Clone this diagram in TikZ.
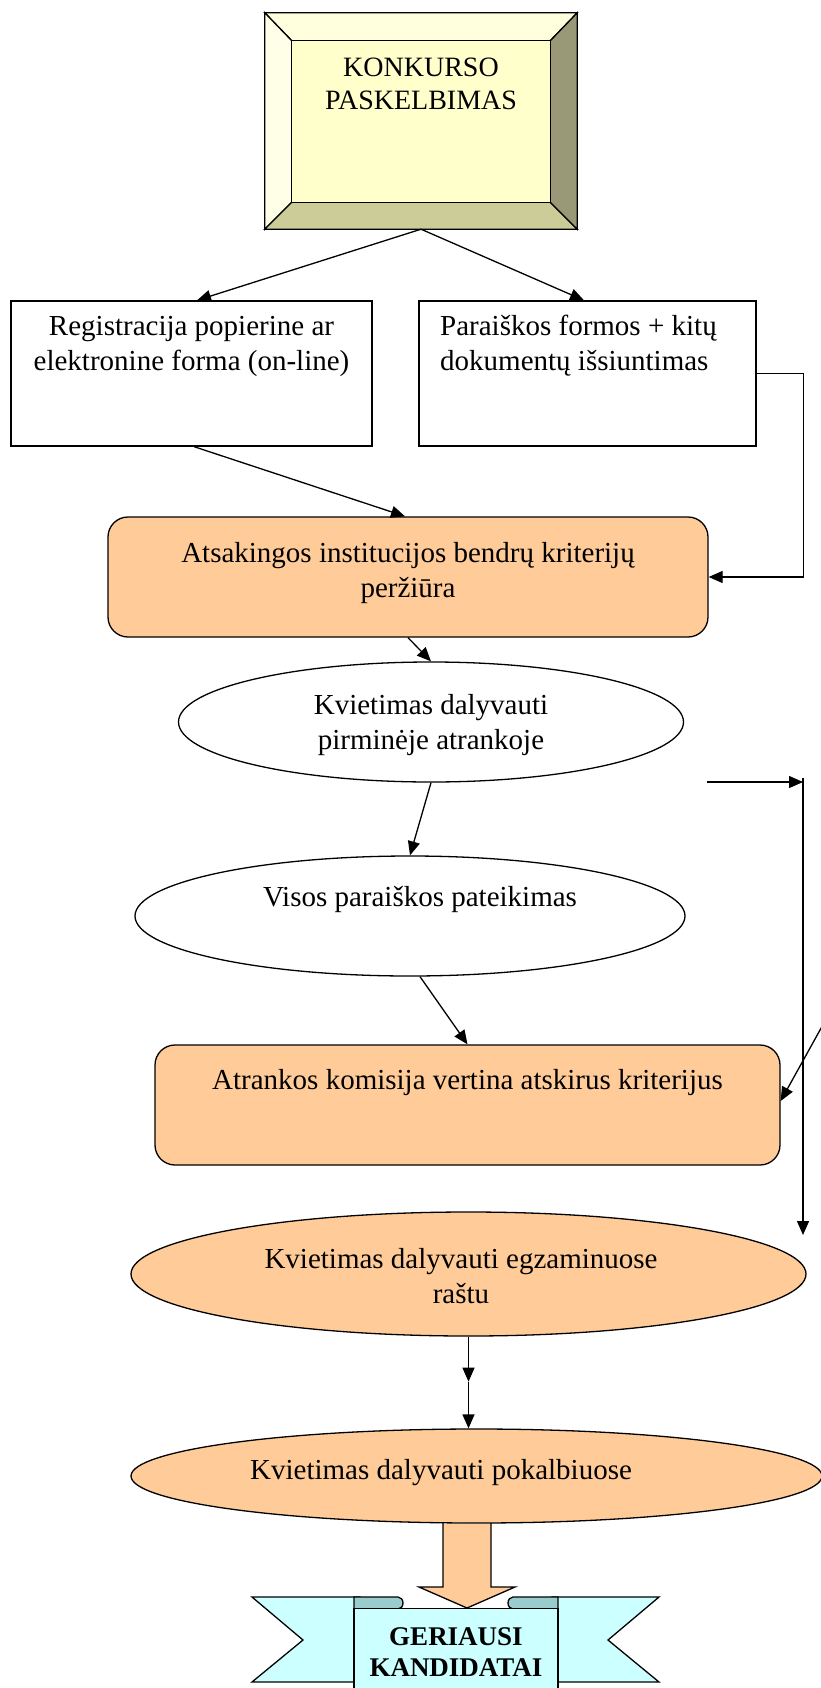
\documentclass[tikz,border=0pt]{standalone}
\usepackage{fontspec}
\setmainfont{Liberation Serif}
\usetikzlibrary{arrows.meta,shapes.geometric,calc}
\definecolor{peach}{HTML}{FFCC99}
\definecolor{ribbonc}{HTML}{CCFFFF}
\definecolor{rollc}{HTML}{99CCCC}
\definecolor{bvface}{HTML}{FFFFCC}
\definecolor{bvtop}{HTML}{FFFFDD}
\definecolor{bvleft}{HTML}{FFFFE8}
\definecolor{bvbot}{HTML}{CCCC99}
\definecolor{bvright}{HTML}{999977}
\newcommand{\lnsc}[1]{\begin{tabular}[t]{@{}c@{}}#1\end{tabular}}
\newcommand{\lnsl}[1]{\begin{tabular}[t]{@{}l@{}}#1\end{tabular}}
\begin{document}
\begin{tikzpicture}[x=1pt,y=-1pt,
  ln/.style={line width=1.3pt},
  arr/.style={ln,-{Triangle[length=14pt,width=12pt]}},
  txt/.style={font=\fontsize{29}{35}\selectfont, inner sep=0pt, anchor=base},
  rbox/.style={draw, ln, inner sep=0pt, fill=white},
  ell/.style={ellipse, draw, ln, inner sep=0pt, fill=white}]
\fill[white] (0,0) rectangle (820,1688);
\useasboundingbox (0,0) rectangle (820,1688);

% bevelled title box
\node[inner sep=0pt, minimum width=312pt, minimum height=216pt] (top) at (421,121) {};
\coordinate (iNW) at ($(top.north west)+(27,28)$);
\coordinate (iNE) at ($(top.north east)+(-27,28)$);
\coordinate (iSW) at ($(top.south west)+(27,-27)$);
\coordinate (iSE) at ($(top.south east)+(-27,-27)$);
\filldraw[ln, fill=bvtop] (top.north west) -- (top.north east) -- (iNE) -- (iNW) -- cycle;
\filldraw[ln, fill=bvleft] (top.north west) -- (iNW) -- (iSW) -- (top.south west) -- cycle;
\filldraw[ln, fill=bvbot] (top.south west) -- (iSW) -- (iSE) -- (top.south east) -- cycle;
\filldraw[ln, fill=bvright] (top.north east) -- (top.south east) -- (iSE) -- (iNE) -- cycle;
\filldraw[ln, fill=bvface] (iNW) rectangle (iSE);
\node[txt, font=\fontsize{28}{33}\selectfont] (toptxt) at (421,77) {\lnsc{KONKURSO\\PASKELBIMAS}};

% two boxes
\node[rbox, minimum width=361pt, minimum height=145pt] (b1) at (191.5,373.5) {};
\node[txt] (b1t) at (191.5,335) {\lnsc{Registracija popierine ar\\elektronine forma (on-line)}};
\node[rbox, minimum width=337pt, minimum height=145pt] (b2) at (587.5,373.5) {};
\node[txt, anchor=base west] (b2t) at (440,335) {\lnsl{Paraiškos formos + kitų\\dokumentų išsiuntimas}};
\draw[arr] (top.south) -- ([xshift=5.5pt]b1.north);
\draw[arr] (top.south) -- ([xshift=-3.5pt]b2.north);

% review box
\node[rbox, fill=peach, rounded corners=20pt, minimum width=600pt, minimum height=120pt] (b3) at (408,577) {};
\node[txt] (b3t) at (408,562) {\lnsc{Atsakingos institucijos bendrų kriterijų\\peržiūra}};
\draw[arr] ([xshift=2.5pt]b1.south) -- ([xshift=-3pt]b3.north);
\draw[arr] (b2.east) -- ++(47,0) |- (b3.east);

% ellipse 1
\node[ell, minimum width=505pt, minimum height=120pt] (e1) at (431,722) {};
\node[txt] (e1t) at (431,714) {\lnsc{Kvietimas dalyvauti\\pirminėje atrankoje}};
\draw[arr] (b3.south) -- (e1.north);

% ellipse 2
\node[ell, minimum width=550pt, minimum height=120pt] (e2) at (410,916) {};
\node[txt] (e2t) at (420,906) {Visos paraiškos pateikimas};
\draw[arr] (e1.south) -- (e2.north);

% commission box
\node[rbox, fill=peach, rounded corners=20pt, minimum width=625pt, minimum height=120pt] (b4) at (467.5,1105) {};
\node[txt] (b4t) at (467.5,1089) {Atrankos komisija vertina atskirus kriterijus};
\draw[arr] ([xshift=10pt]e2.south) -- (b4.north);

% right side connectors
\coordinate (fr) at (707,782);
\coordinate (rc) at (803,782);
\coordinate (rb) at (803,1235);
\coordinate (dg) at (830,1012);
\draw[arr] (fr) -- (rc);
\draw[arr] ([yshift=4pt]rc) -- (rb);
\draw[arr] (dg) -- ([yshift=4pt]b4.east);

% ellipse 3 and 4
\node[ell, fill=peach, minimum width=675pt, minimum height=124pt] (e3) at (468.5,1274) {};
\node[txt] (e3t) at (461,1268) {\lnsc{Kvietimas dalyvauti egzaminuose\\raštu}};
\node[ell, fill=peach, minimum width=691pt, minimum height=94pt] (e4) at (476.5,1476) {};
\node[txt] (e4t) at (441,1479) {Kvietimas dalyvauti pokalbiuose};
\coordinate (m) at ($(e3.south)+(0,45)$);
\draw[arr] (e3.south) -- (m);
\draw[arr] (m) -- (m |- e4.north);

% ribbon banner
\filldraw[ln, fill=ribbonc] (252,1597) -- (360,1597) -- (360,1682) -- (252,1682) -- (303,1640) -- cycle;
\filldraw[ln, fill=ribbonc] (659,1597) -- (552,1597) -- (552,1682) -- (659,1682) -- (608,1640) -- cycle;
\filldraw[ln, fill=rollc] (354,1609) -- (354,1597) -- (398,1597) arc[start angle=90, end angle=-90, x radius=5pt, y radius=6pt] -- cycle;
\filldraw[ln, fill=rollc] (558,1609) -- (558,1597) -- (513,1597) arc[start angle=90, end angle=270, x radius=5pt, y radius=6pt] -- cycle;
\node[draw, ln, fill=ribbonc, inner sep=0pt, minimum width=204pt, minimum height=100pt, anchor=north] (banner) at (456,1608) {};
\node[txt, font=\bfseries\fontsize{27}{31}\selectfont] (bant) at (456,1645) {\lnsc{GERIAUSI\\KANDIDATAI}};

% block arrow
\fill[peach] (443,1524) -- (443,1587) -- (419,1587) -- (467,1608) -- (515,1587) -- (491,1587) -- (491,1524) -- cycle;
\draw[ln] (443,1523) -- (443,1587) -- (419,1587) -- (467,1608) -- (515,1587) -- (491,1587) -- (491,1523);
\end{tikzpicture}
\end{document}
